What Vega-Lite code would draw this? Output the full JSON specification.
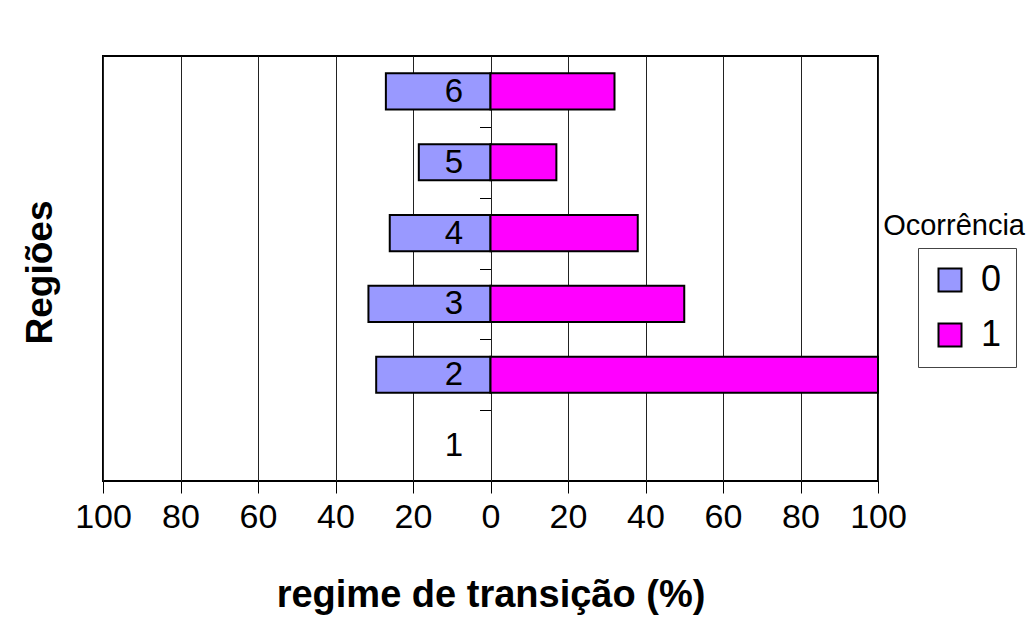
{
  "$schema": "https://vega.github.io/schema/vega-lite/v6.json",
  "width": 775,
  "height": 425,
  "autosize": {"type": "none"},
  "padding": {"left": 103, "top": 56, "right": 155, "bottom": 153},
  "background": "white",
  "title": {"text": "Ocorrência", "orient": "top", "anchor": "end", "frame": "group", "dx": 147, "dy": 205, "fontSize": 29, "fontWeight": "normal", "font": "Liberation Sans", "color": "black"},
  "data": {"values": [
    {"regiao": "6", "ocorrencia": "0", "percentual": -27},
    {"regiao": "6", "ocorrencia": "1", "percentual": 32},
    {"regiao": "5", "ocorrencia": "0", "percentual": -18.5},
    {"regiao": "5", "ocorrencia": "1", "percentual": 17},
    {"regiao": "4", "ocorrencia": "0", "percentual": -26},
    {"regiao": "4", "ocorrencia": "1", "percentual": 38},
    {"regiao": "3", "ocorrencia": "0", "percentual": -31.5},
    {"regiao": "3", "ocorrencia": "1", "percentual": 50},
    {"regiao": "2", "ocorrencia": "0", "percentual": -29.5},
    {"regiao": "2", "ocorrencia": "1", "percentual": 100}
  ]},
  "mark": {"type": "bar", "stroke": "black", "strokeWidth": 2, "height": {"band": 0.51}},
  "encoding": {
    "y": {
      "field": "regiao", "type": "nominal",
      "scale": {"domain": ["6", "5", "4", "3", "2", "1"], "paddingInner": 0, "paddingOuter": 0},
      "axis": {
        "orient": "left", "offset": -387.5, "zindex": 1, "domain": false, "grid": false,
        "tickBand": "extent", "tickSize": 11, "tickColor": "black",
        "labelFontSize": 33, "labelColor": "black", "labelPadding": 17, "labelAngle": 0, "labelFont": "Liberation Sans",
        "title": "Regiões", "titleFontSize": 37, "titleFontWeight": "bold", "titleColor": "black", "titleFont": "Liberation Sans",
        "titleX": -450.5, "titleY": 216, "titleAngle": -90, "titleAlign": "center", "titleBaseline": "middle"
      }
    },
    "x": {
      "field": "percentual", "type": "quantitative",
      "scale": {"domain": [-100, 100], "nice": false},
      "axis": {
        "values": [-100, -80, -60, -40, -20, 0, 20, 40, 60, 80, 100],
        "labelExpr": "format(abs(datum.value), 'd')",
        "labelFlush": false, "labelOverlap": false, "labelFontSize": 34, "labelColor": "black", "labelFont": "Liberation Sans",
        "labelPadding": 7, "tickSize": 12, "tickColor": "black", "domain": false,
        "grid": true, "gridColor": "#222", "gridWidth": 1,
        "title": "regime de transição (%)", "titleFontSize": 38, "titleFontWeight": "bold", "titleColor": "black", "titleFont": "Liberation Sans",
        "titlePadding": 42
      }
    },
    "color": {
      "field": "ocorrencia", "type": "nominal",
      "scale": {"domain": ["0", "1"], "range": ["#9999FF", "#FF00FF"]},
      "legend": {
        "title": null, "orient": "none", "legendX": 815, "legendY": 192,
        "symbolType": "square", "symbolSize": 529, "symbolStrokeColor": "black", "symbolStrokeWidth": 2, "symbolOpacity": 1,
        "labelFontSize": 36, "labelColor": "black", "labelFont": "Liberation Sans", "labelOffset": 13,
        "padding": 14, "rowPadding": 19, "strokeColor": "#444"
      }
    }
  },
  "config": {"view": {"stroke": "black", "strokeWidth": 2}, "font": "Liberation Sans"}
}
